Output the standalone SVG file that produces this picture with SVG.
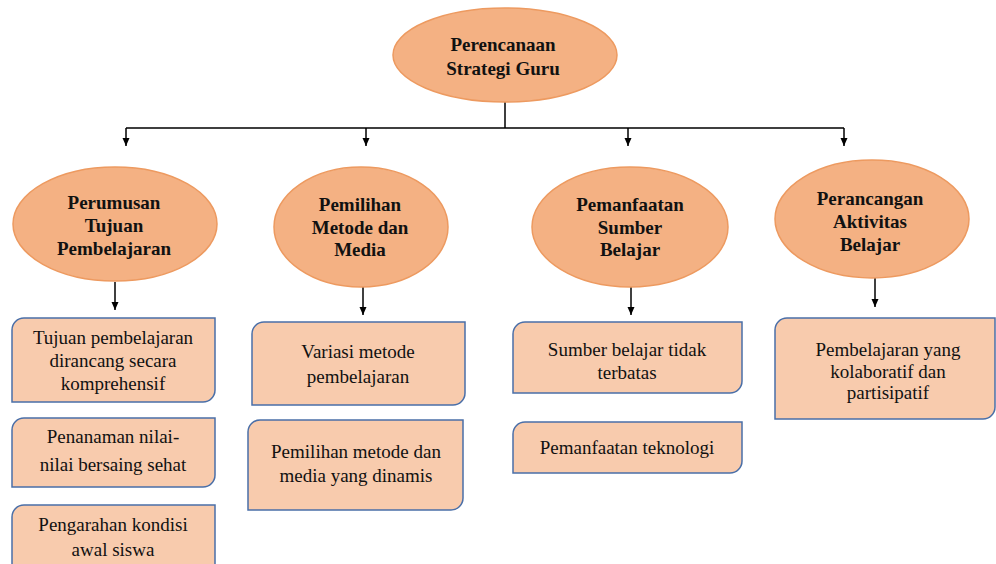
<svg xmlns="http://www.w3.org/2000/svg" width="996" height="564" viewBox="0 0 996 564">
<style>
.oval{fill:#F4B183;stroke:#ED9A60;stroke-width:1.5}
.box{fill:#F8CBAD;stroke:#4A6FA8;stroke-width:1.5}
.t{font-family:"Liberation Serif","Times New Roman",serif;font-size:19px;fill:#111;text-anchor:middle}
.b{font-weight:bold}
.ln{stroke:#000;stroke-width:1.5;fill:none}
</style>
<defs>
<marker id="ah" markerWidth="10" markerHeight="10" refX="9" refY="5" orient="auto" markerUnits="userSpaceOnUse" viewBox="0 0 10 10">
<path d="M1,1.5 L9,5 L1,8.5 Z" fill="#000"/>
</marker>
</defs>
<rect width="996" height="564" fill="#fff"/>
<g id="connectors">
<path class="ln" d="M505,102 V128 M126,128 H844"/>
<path class="ln" d="M126,128 V146" marker-end="url(#ah)"/>
<path class="ln" d="M366,128 V146" marker-end="url(#ah)"/>
<path class="ln" d="M628,128 V146" marker-end="url(#ah)"/>
<path class="ln" d="M844,128 V146" marker-end="url(#ah)"/>
<path class="ln" d="M115,282 V310" marker-end="url(#ah)"/>
<path class="ln" d="M363,287 V315" marker-end="url(#ah)"/>
<path class="ln" d="M631,287 V315" marker-end="url(#ah)"/>
<path class="ln" d="M875,278 V307" marker-end="url(#ah)"/>
</g>
<g id="root">
<ellipse class="oval" cx="505" cy="55" rx="112" ry="47"/>
<text class="t b" x="503" y="51">Perencanaan</text>
<text class="t b" x="503" y="75">Strategi Guru</text>
</g>
<g id="n1">
<ellipse class="oval" cx="115" cy="224" rx="102" ry="57"/>
<text class="t b" x="114" y="209">Perumusan</text>
<text class="t b" x="114" y="232">Tujuan</text>
<text class="t b" x="114" y="255">Pembelajaran</text>
</g>
<g id="n2">
<ellipse class="oval" cx="361" cy="227" rx="87" ry="60"/>
<text class="t b" x="360" y="211">Pemilihan</text>
<text class="t b" x="360" y="234">Metode dan</text>
<text class="t b" x="360" y="256">Media</text>
</g>
<g id="n3">
<ellipse class="oval" cx="630" cy="227" rx="98" ry="60"/>
<text class="t b" x="630" y="211">Pemanfaatan</text>
<text class="t b" x="630" y="234">Sumber</text>
<text class="t b" x="630" y="256">Belajar</text>
</g>
<g id="n4">
<ellipse class="oval" cx="872" cy="219" rx="97" ry="59"/>
<text class="t b" x="870" y="205">Perancangan</text>
<text class="t b" x="870" y="228">Aktivitas</text>
<text class="t b" x="870" y="251">Belajar</text>
</g>
<g id="b11">
<path class="box" d="M24,318 H215 V390 A12,12 0 0 1 203,402 H12 V330 A12,12 0 0 1 24,318 Z"/>
<text class="t" x="113" y="344">Tujuan pembelajaran</text>
<text class="t" x="113" y="367">dirancang secara</text>
<text class="t" x="113" y="390">komprehensif</text>
</g>
<g id="b12">
<path class="box" d="M24,418 H215 V475 A12,12 0 0 1 203,487 H12 V430 A12,12 0 0 1 24,418 Z"/>
<text class="t" x="113" y="443">Penanaman nilai-</text>
<text class="t" x="113" y="471">nilai bersaing sehat</text>
</g>
<g id="b13">
<path class="box" d="M24,505 H215 V568 A12,12 0 0 1 203,580 H12 V517 A12,12 0 0 1 24,505 Z"/>
<text class="t" x="113" y="531">Pengarahan kondisi</text>
<text class="t" x="113" y="556">awal siswa</text>
</g>
<g id="b21">
<path class="box" d="M264,322 H465 V393 A12,12 0 0 1 453,405 H252 V334 A12,12 0 0 1 264,322 Z"/>
<text class="t" x="358" y="358">Variasi metode</text>
<text class="t" x="358" y="383">pembelajaran</text>
</g>
<g id="b22">
<path class="box" d="M260,420 H463 V498 A12,12 0 0 1 451,510 H248 V432 A12,12 0 0 1 260,420 Z"/>
<text class="t" x="356" y="458">Pemilihan metode dan</text>
<text class="t" x="356" y="482">media yang dinamis</text>
</g>
<g id="b31">
<path class="box" d="M525,322 H742 V381 A12,12 0 0 1 730,393 H513 V334 A12,12 0 0 1 525,322 Z"/>
<text class="t" x="627" y="356">Sumber belajar tidak</text>
<text class="t" x="627" y="379">terbatas</text>
</g>
<g id="b32">
<path class="box" d="M525,422 H742 V461 A12,12 0 0 1 730,473 H513 V434 A12,12 0 0 1 525,422 Z"/>
<text class="t" x="627" y="454">Pemanfaatan teknologi</text>
</g>
<g id="b41">
<path class="box" d="M787,318 H995 V407 A12,12 0 0 1 983,419 H775 V330 A12,12 0 0 1 787,318 Z"/>
<text class="t" x="888" y="356">Pembelajaran yang</text>
<text class="t" x="888" y="378">kolaboratif dan</text>
<text class="t" x="888" y="399">partisipatif</text>
</g>
</svg>
